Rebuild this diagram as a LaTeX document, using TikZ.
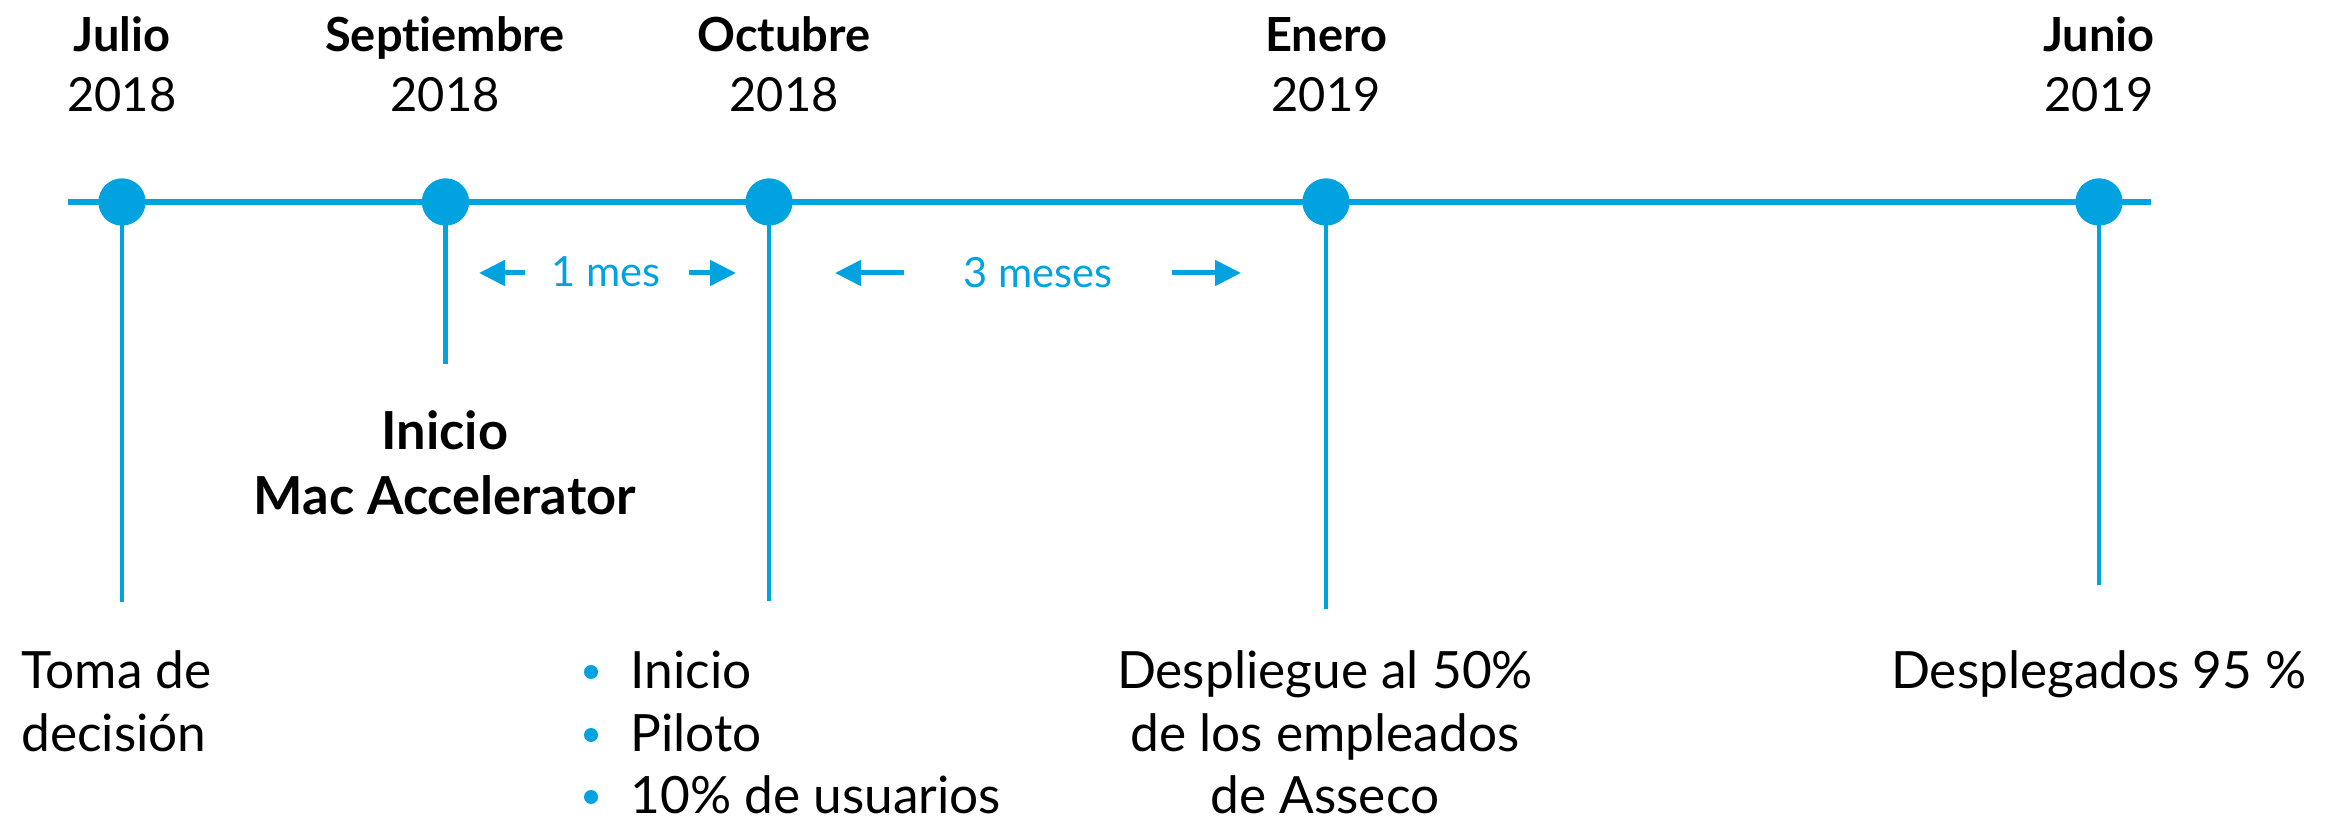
\documentclass[tikz,border=0pt]{standalone}
\usepackage{fontspec}
\setmainfont{Lato}[Ligatures=NoCommon]
\usetikzlibrary{arrows.meta}
\definecolor{tlblue}{RGB}{0,163,224}
\begin{document}
\begin{tikzpicture}[x=0.5pt,y=-0.5pt,
  mainline/.style={draw=tlblue,line width=3pt},
  stem/.style={draw=tlblue,line width=2.3pt},
  dot/.style={circle,fill=tlblue,minimum size=23.5pt,inner sep=0pt},
  bul/.style={circle,fill=tlblue,minimum size=7pt,inner sep=0pt},
  month/.style={anchor=base,inner sep=0pt,font=\fontsize{23.5pt}{28pt}\selectfont\bfseries},
  year/.style={anchor=base,inner sep=0pt,font=\fontsize{23.5pt}{28pt}\selectfont},
  span/.style={anchor=base,inner sep=0pt,text=tlblue,font=\fontsize{20.8pt}{25pt}\selectfont},
  body/.style={anchor=base,inner sep=0pt,font=\fontsize{25.7pt}{30pt}\selectfont},
  bodyl/.style={anchor=base west,inner sep=0pt,font=\fontsize{25.7pt}{30pt}\selectfont},
  boldbody/.style={anchor=base,inner sep=0pt,font=\fontsize{26.2pt}{30pt}\selectfont\bfseries},
  dur/.style={draw=tlblue,line width=2.5pt,-{Triangle[length=13pt,width=12.5pt]}}]
\useasboundingbox (0,0) rectangle (2341,822);
% main line
\coordinate (L) at (68,202);
\coordinate (R) at (2151,202);
\draw[mainline] (L) -- (R);
% stem ends
\coordinate (e1) at (122,602);
\coordinate (e2) at (445.5,364);
\coordinate (e3) at (769,601);
\coordinate (e4) at (1326,609);
\coordinate (e5) at (2099,585);
% dots
\node[dot] (d1) at (122,202) {};
\node[dot] (d2) at (445.5,202) {};
\node[dot] (d3) at (769,202) {};
\node[dot] (d4) at (1326,202) {};
\node[dot] (d5) at (2099,202) {};
\draw[stem] (d1.center) -- (e1);
\draw[stem] (d2.center) -- (e2);
\draw[stem] (d3.center) -- (e3);
\draw[stem] (d4.center) -- (e4);
\draw[stem] (d5.center) -- (e5);
\foreach \n in {d1,d2,d3,d4,d5} {\fill[tlblue] (\n) circle (11.75pt);}
% top labels
\node[month] (m1) at (122,52) {Julio};
\node[year] (y1) at (122,112) {2018};
\node[month] (m2) at (445,52) {Septiembre};
\node[year] (y2) at (445,112) {2018};
\node[month] (m3) at (784,52) {Octubre};
\node[year] (y3) at (784,112) {2018};
\node[month] (m4) at (1326,52) {Enero};
\node[year] (y4) at (1326,112) {2019};
\node[month] (m5) at (2099,52) {Junio};
\node[year] (y5) at (2099,112) {2019};
% durations
\coordinate (a1t) at (525,273); \coordinate (a1h) at (479,273);
\coordinate (a2t) at (689,273); \coordinate (a2h) at (736,273);
\coordinate (a3t) at (904,273); \coordinate (a3h) at (835,273);
\coordinate (a4t) at (1172,273); \coordinate (a4h) at (1241,273);
\draw[dur] (a1t) -- (a1h);
\draw[dur] (a2t) -- (a2h);
\draw[dur] (a3t) -- (a3h);
\draw[dur] (a4t) -- (a4h);
\node[span] (s1) at (606,287) {1 mes};
\node[span] (s2) at (1038,288) {3 meses};
% Septiembre label
\node[boldbody] (i1) at (445,450) {Inicio};
\node[boldbody] (i2) at (445,515) {Mac Accelerator};
% bottom labels
\node[bodyl] (t1) at (21,689) {Toma de};
\node[bodyl] (t2) at (21,752) {decisión};
\node[bul] (b1) at (591,672) {};
\node[bul] (b2) at (591,735) {};
\node[bul] (b3) at (591,797) {};
\node[bodyl] (p1) at (630,689) {Inicio};
\node[bodyl] (p2) at (630,752) {Piloto};
\node[bodyl] (p3) at (630,814) {10\% de usuarios};
\node[body] (q1) at (1325,689) {Despliegue al 50\%};
\node[body] (q2) at (1325,752) {de los empleados};
\node[body] (q3) at (1325,814) {de Asseco};
\node[body] (r1) at (2099,689) {Desplegados 95 \%};
\end{tikzpicture}
\end{document}
